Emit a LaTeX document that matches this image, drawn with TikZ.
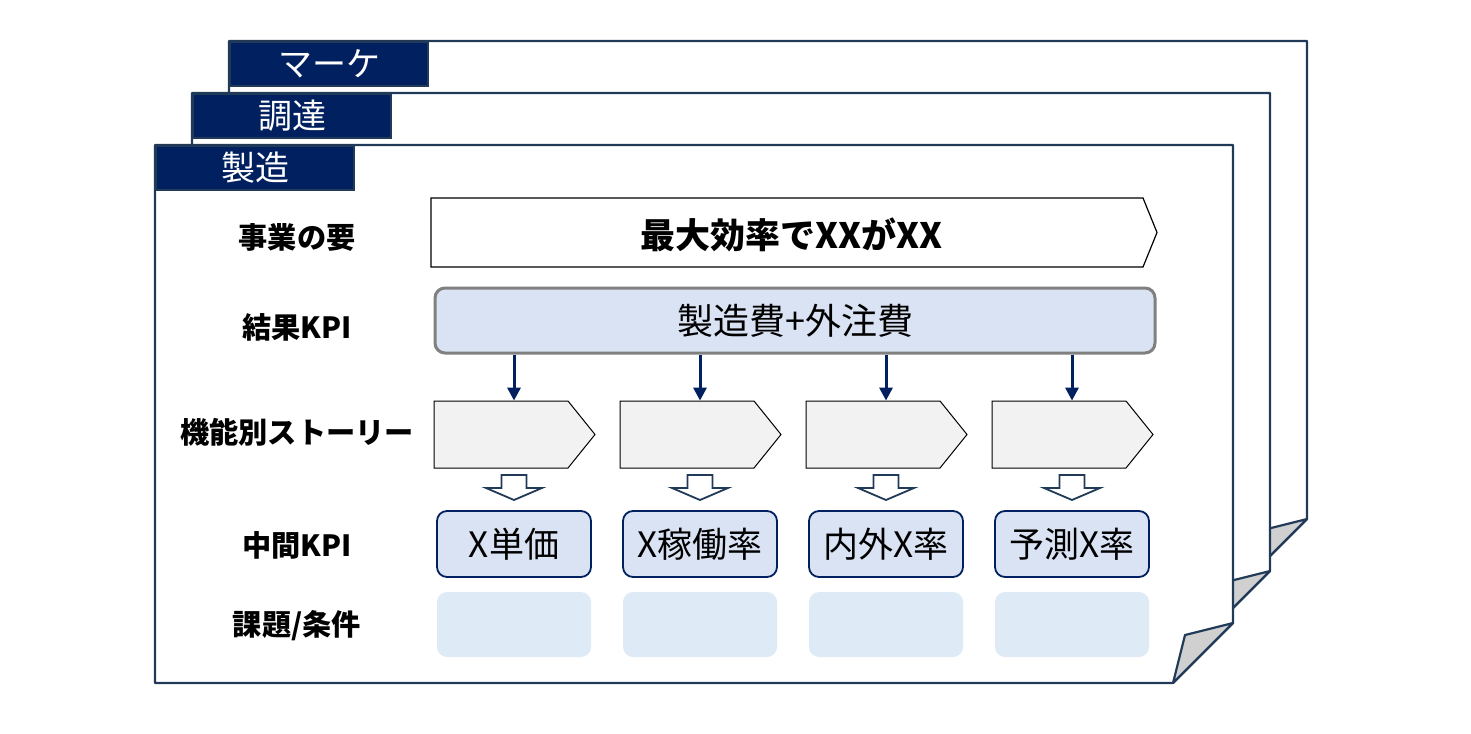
\documentclass[tikz,border=0pt]{standalone}
\usepackage{fontspec}
\setmainfont{Noto Sans CJK JP}
\usetikzlibrary{arrows.meta}
\definecolor{navy}{HTML}{002060}
\definecolor{edge}{HTML}{213A58}
\definecolor{kpifill}{HTML}{DAE3F3}
\definecolor{taskfill}{HTML}{DEEBF7}
\definecolor{foldgray}{HTML}{D0D0D0}
\definecolor{storyfill}{HTML}{F2F2F2}
\tikzset{
  page/.style={draw=edge,line width=1.1pt,fill=white,line join=round},
  fold/.style={draw=edge,line width=1.1pt,fill=foldgray,line join=round},
  tab/.style={draw=edge,line width=1.1pt,fill=navy,text=white,inner sep=0pt,
    minimum width=99pt,minimum height=22pt,anchor=north west,
    font=\fontsize{17}{20}\selectfont},
  rowlabel/.style={font=\fontsize{14.6}{16}\selectfont\bfseries},
  kpibox/.style={draw=navy,line width=0.9pt,fill=kpifill,rounded corners=5pt,
    minimum width=77pt,minimum height=33pt,inner sep=0pt,
    font=\fontsize{17.5}{20}\selectfont},
  taskbox/.style={fill=taskfill,rounded corners=5pt,
    minimum width=77pt,minimum height=32.5pt,inner sep=0pt},
  storybox/.style={draw=black,line width=0.5pt,fill=storyfill},
  downarrow/.style={draw=edge,line width=0.9pt,fill=white,line join=miter},
}
\begin{document}
\begin{tikzpicture}[x=0.5pt,y=-0.5pt]
 \useasboundingbox (0,0) rectangle (1471,733);
 % stacked sheets, back to front
 \foreach \s/\name/\txt in {2/mk/マーケ,1/pr/調達,0/mf/製造}{
  \begin{scope}[shift={(37*\s,-52*\s)}]
   \draw [page] (155,145) -- (1233,145) -- (1233,623) -- (1173,683) -- (155,683) -- cycle;
   \draw [fold] (1233,623) -- (1185,635) -- (1173,683) -- cycle;
   \node [tab] (tab\name) at (155,145) {\txt};
  \end{scope}
 }
 % row labels
 \node [rowlabel] (lgoal) at (297,237) {事業の要};
 \node [rowlabel] (lres) at (297,327) {結果KPI};
 \node [rowlabel] (lstory) at (297,432) {機能別ストーリー};
 \node [rowlabel] (lkpi) at (297,545) {中間KPI};
 \node [rowlabel] (ltask) at (297,626) {課題/条件};
 % goal and result
 \draw [draw=black,line width=0.6pt,fill=white] (431,198) -- (1143,198) -- (1157,232.5)
  -- (1143,267) -- (431,267) -- cycle;
 \node [font=\fontsize{17.5}{20}\selectfont\bfseries] (goal) at (791,235) {最大効率でXXがXX};
 \node [draw=gray,line width=1.5pt,fill=kpifill,rounded corners=5pt,minimum width=360pt,
  minimum height=32.5pt,inner sep=0pt,font=\fontsize{18}{20}\selectfont] (res) at (795,320.5)
  {製造費+外注費};
 % four columns
 \foreach \i/\x/\kpi in {1/514/X単価,2/700/X稼働率,3/886/内外X率,4/1072/予測X率}{
  \draw [storybox] (\x-80,401) -- (\x+54,401) -- (\x+81,434.5) -- (\x+54,468) -- (\x-80,468) -- cycle;
  \node [inner sep=0pt,minimum width=67pt,minimum height=33.5pt] (st\i) at (\x,434.5) {};
  \draw [navy,line width=1.5pt,-{Triangle[length=6.5pt,width=6.5pt]}] (res.south -| st\i) -- (st\i.north);
  \draw [downarrow] (\x-12.5,475) -- (\x+12.5,475) -- (\x+12.5,488) -- (\x+28,488) -- (\x,500)
   -- (\x-28,488) -- (\x-12.5,488) -- cycle;
  \node [kpibox] (kpi\i) at (\x,544) {\kpi};
  \node [taskbox] (task\i) at (\x,624.5) {};
 }
\end{tikzpicture}
\end{document}
